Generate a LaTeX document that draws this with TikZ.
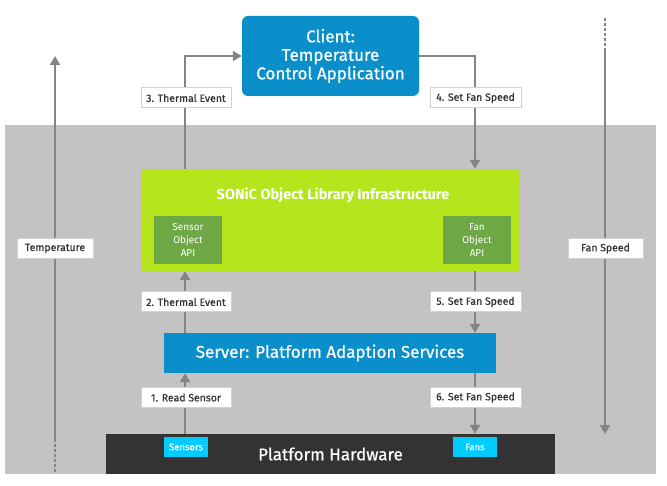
\documentclass[tikz,border=0pt]{standalone}
\usepackage{fontspec}
\setmainfont{Fira Sans}
\newfontfamily\medfont{Fira Sans}[FakeBold=0.6]
\usetikzlibrary{arrows.meta}
\definecolor{bggray}{HTML}{C3C3C3}
\definecolor{clientblue}{HTML}{0A8FCB}
\definecolor{limegreen}{HTML}{B5E51D}
\definecolor{apigreen}{HTML}{6EA845}
\definecolor{hwdark}{HTML}{333333}
\definecolor{cyanbox}{HTML}{00CCFF}
\definecolor{arrowgray}{HTML}{848484}
\definecolor{lblborder}{HTML}{D2D2D2}
\definecolor{lbltext}{HTML}{333333}
\begin{document}
\begin{tikzpicture}[x=1pt,y=-1pt,
  box/.style={inner sep=0pt, text=white, align=center},
  lbl/.style={draw=lblborder, line width=1pt, fill=white, text=lbltext, inner sep=0pt,
    minimum height=20pt, font=\medfont\fontsize{10.5}{12}\selectfont},
  arr/.style={draw=arrowgray, line width=2pt, -{Triangle[width=10pt,length=9pt]}},
  dashline/.style={draw=arrowgray, line width=2pt, dash pattern=on 3pt off 2pt},
  plainline/.style={draw=arrowgray, line width=2pt}]
\useasboundingbox (0,0) rectangle (667,486);
% background
\fill[bggray] (5,125) rectangle (656,474);
% client
\node[box, fill=clientblue, rounded corners=6pt, minimum width=177pt, minimum height=80pt,
  font=\medfont\fontsize{17}{18.5}\selectfont] (client) at (330.5,56) {Client:\\Temperature\\Control Application};
% green library
\node[box, fill=limegreen, minimum width=379pt, minimum height=102pt] (lib) at (330.5,220) {};
\node[box, font=\fontsize{14.5}{15}\selectfont\bfseries] (libtitle) at (333,195) {SONiC Object Library Infrastructure};
\node[box, fill=apigreen, minimum width=68pt, minimum height=48pt, font=\fontsize{10}{13}\selectfont] (sapi) at (188,240) {Sensor\\Object\\API};
\node[box, fill=apigreen, minimum width=68pt, minimum height=48pt, font=\fontsize{10}{13}\selectfont] (fapi) at (477,240) {Fan\\Object\\API};
% server
\node[box, fill=clientblue, minimum width=332pt, minimum height=40pt, font=\medfont\fontsize{17}{18}\selectfont] (server) at (330,353) {Server: Platform Adaption Services};
% hardware
\node[box, fill=hwdark, minimum width=449pt, minimum height=40pt, font=\medfont\fontsize{17}{18}\selectfont] (hw) at (330.5,454) {Platform Hardware};
\node[box, fill=cyanbox, minimum width=44pt, minimum height=20pt, font=\medfont\fontsize{9.5}{11}\selectfont] (sensors) at (186,447) {Sensors};
\node[box, fill=cyanbox, minimum width=44pt, minimum height=20pt, font=\medfont\fontsize{9.5}{11}\selectfont] (fans) at (475,447) {Fans};
% coordinates for columns
\coordinate (lcol) at (185,0);
\coordinate (rcol) at (475,0);
% 3. thermal event
\draw[arr] (lib.north -| lcol) |- (client.west);
\node[lbl, minimum width=90pt] (l3) at (186,98) {3. Thermal Event};
% 4. set fan speed
\draw[arr] (client.east) -| (lib.north -| rcol);
\node[lbl, minimum width=91pt] (l4) at (475.5,98) {4. Set Fan Speed};
% 2. thermal event
\draw[arr] (server.north -| lcol) -- (lib.south -| lcol);
\node[lbl, minimum width=90pt] (l2) at (186,302) {2. Thermal Event};
% 5. set fan speed
\draw[arr] (lib.south -| rcol) -- (server.north -| rcol);
\node[lbl, minimum width=91pt] (l5) at (475.5,302) {5. Set Fan Speed};
% 1. read sensor
\draw[arr] (hw.north -| lcol) -- (server.south -| lcol);
\node[lbl, minimum width=90pt] (l1) at (186,397.5) {1. Read Sensor};
% 6. set fan speed
\draw[arr] (server.south -| rcol) -- (hw.north -| rcol);
\node[lbl, minimum width=91pt] (l6) at (475.5,397.5) {6. Set Fan Speed};
% temperature arrow
\coordinate (tbot) at (55,472);
\coordinate (tdash) at (55,440);
\coordinate (ttop) at (55,56);
\draw[dashline] (tbot) -- (tdash);
\draw[arr] (tdash) -- (ttop);
\node[lbl, minimum width=76pt] (temp) at (55,248.5) {Temperature};
% fan speed arrow
\coordinate (ftop) at (605,18);
\coordinate (fdash) at (605,50);
\coordinate (fbot) at (605,434);
\draw[dashline] (ftop) -- (fdash);
\draw[arr] (fdash) -- (fbot);
\node[lbl, minimum width=75pt] (fspd) at (605.5,248.5) {Fan Speed};
\end{tikzpicture}
\end{document}
